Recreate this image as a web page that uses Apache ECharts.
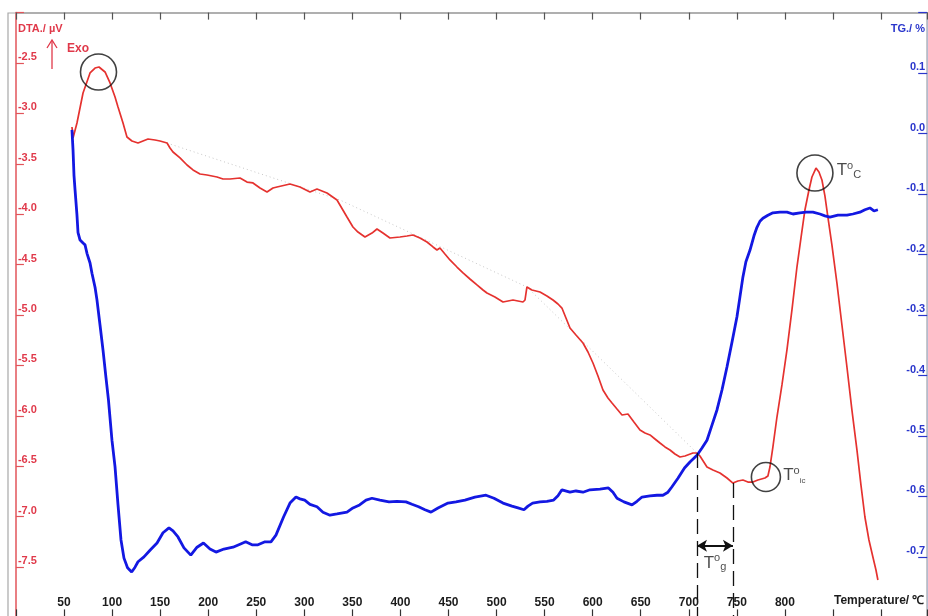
<!DOCTYPE html>
<html>
<head>
<meta charset="utf-8">
<script src="https://cdn.jsdelivr.net/npm/echarts@6/dist/echarts.min.js"></script>
<style>
  html, body { margin: 0; padding: 0; background: #fff; }
  #chart { width: 928px; height: 616px; }
</style>
</head>
<body>
<div id="chart"></div>
<script>
// DTA signal (µV) against temperature (°C)
const dtaTemp = [58.3,59.4,63.5,69.8,77.1,82.3,86.4,92.7,97.9,103.1,
  106.2,111.4,115.5,120.7,127.0,132.2,137.4,144.7,149.9,157.2,
  160.3,163.4,170.7,178.0,184.2,191.5,198.8,209.2,215.4,222.7,
  233.1,240.4,246.6,253.9,261.2,267.4,271.6,285.1,295.5,305.9,
  313.2,323.6,334.0,344.4,350.6,355.8,363.1,370.4,375.6,381.8,
  389.1,399.5,406.8,413.0,420.3,427.6,433.9,438.0,441.1,446.3,
  451.5,458.8,465.1,472.3,479.6,485.9,490.0,498.3,506.7,511.9,
  517.1,522.3,527.5,529.6,531.6,536.8,545.2,552.4,558.7,563.9,
  568.0,572.2,576.4,582.6,589.9,595.1,600.3,605.5,610.7,615.9,
  620.1,625.3,630.5,636.7,642.9,649.2,654.4,659.6,664.8,670.0,
  675.2,680.4,685.6,690.8,696.0,704.3,708.5,711.6,718.9,725.1,
  732.4,739.7,745.9,751.1,756.3,761.5,766.7,771.9,779.2,782.3,
  784.4,787.5,791.7,796.9,802.1,807.3,812.5,816.7,820.8,825.0,
  828.1,832.3,835.4,838.5,841.6,844.7,848.9,854.1,859.3,864.5,
  869.7,874.9,879.1,883.2,887.4,891.5,894.7,896.7];
const dtaValue = [-3.135,-3.244,-3.095,-2.798,-2.599,-2.550,-2.540,-2.589,-2.698,-2.837,
  -2.937,-3.095,-3.234,-3.274,-3.294,-3.274,-3.254,-3.264,-3.274,-3.294,
  -3.343,-3.383,-3.442,-3.512,-3.561,-3.601,-3.611,-3.631,-3.651,-3.651,
  -3.641,-3.681,-3.690,-3.740,-3.780,-3.740,-3.730,-3.700,-3.730,-3.780,
  -3.750,-3.790,-3.859,-4.028,-4.127,-4.177,-4.226,-4.187,-4.147,-4.187,
  -4.236,-4.226,-4.216,-4.206,-4.236,-4.276,-4.325,-4.355,-4.335,-4.395,
  -4.454,-4.524,-4.583,-4.643,-4.702,-4.752,-4.782,-4.821,-4.871,-4.861,
  -4.851,-4.861,-4.871,-4.851,-4.722,-4.752,-4.772,-4.811,-4.851,-4.891,
  -4.931,-5.030,-5.129,-5.198,-5.278,-5.367,-5.476,-5.605,-5.744,-5.823,
  -5.873,-5.933,-5.992,-5.982,-6.062,-6.141,-6.171,-6.190,-6.230,-6.270,
  -6.309,-6.339,-6.379,-6.409,-6.399,-6.369,-6.369,-6.399,-6.508,-6.538,
  -6.567,-6.617,-6.667,-6.647,-6.637,-6.657,-6.657,-6.637,-6.617,-6.597,
  -6.508,-6.309,-6.012,-5.694,-5.347,-4.950,-4.524,-4.236,-3.958,-3.760,
  -3.631,-3.542,-3.581,-3.661,-3.819,-4.028,-4.306,-4.683,-5.099,-5.516,
  -5.943,-6.339,-6.687,-7.004,-7.232,-7.401,-7.530,-7.629];

// TG mass change (%) against temperature (°C)
const tgTemp = [58.3,59.4,60.4,61.5,63.5,64.6,66.7,69.8,71.9,73.9,
  77.1,79.1,82.3,84.3,87.5,90.6,93.7,96.3,99.9,103.1,
  106.2,109.3,112.4,116.1,120.4,123.9,127.0,133.2,139.5,146.8,
  153.0,159.2,163.4,168.6,174.8,181.9,188.4,195.1,201.9,208.1,
  216.4,225.8,233.1,239.0,245.6,251.8,259.1,265.3,270.5,278.4,
  285.1,291.3,295.5,300.4,305.9,313.2,319.4,326.7,334.0,344.4,
  350.6,357.5,364.2,370.4,378.7,388.1,396.4,405.8,412.0,418.9,
  425.5,431.8,439.1,449.5,457.8,467.1,477.5,489.0,497.3,506.7,
  516.0,522.3,528.5,532.7,537.5,545.2,552.4,559.4,563.9,568.0,
  576.4,582.6,589.9,597.2,607.6,616.4,621.1,625.3,632.5,640.9,
  646.1,651.3,659.6,666.9,673.1,678.3,682.5,688.7,695.5,701.2,
  708.5,713.7,718.9,724.1,729.3,734.5,739.7,744.9,750.1,753.2,
  756.3,759.4,763.6,767.8,770.9,774.0,777.1,782.3,787.5,794.8,
  802.1,808.3,815.6,821.9,829.1,836.4,841.6,846.8,855.1,864.5,
  870.7,878.0,883.2,888.4,892.6,896.7];
const tgValue = [0.006,-0.027,-0.069,-0.093,-0.135,-0.164,-0.176,-0.181,-0.184,-0.198,
  -0.214,-0.231,-0.254,-0.275,-0.317,-0.358,-0.404,-0.441,-0.507,-0.551,
  -0.614,-0.672,-0.702,-0.718,-0.725,-0.717,-0.708,-0.700,-0.689,-0.677,
  -0.660,-0.652,-0.657,-0.667,-0.685,-0.697,-0.684,-0.677,-0.687,-0.692,
  -0.687,-0.684,-0.679,-0.675,-0.680,-0.680,-0.675,-0.675,-0.664,-0.634,
  -0.611,-0.601,-0.604,-0.606,-0.613,-0.617,-0.626,-0.631,-0.629,-0.626,
  -0.619,-0.614,-0.606,-0.603,-0.606,-0.609,-0.608,-0.609,-0.613,-0.617,
  -0.622,-0.626,-0.619,-0.611,-0.609,-0.606,-0.601,-0.598,-0.603,-0.611,
  -0.616,-0.619,-0.622,-0.616,-0.611,-0.609,-0.608,-0.606,-0.599,-0.589,
  -0.593,-0.591,-0.593,-0.589,-0.588,-0.586,-0.593,-0.603,-0.609,-0.614,
  -0.608,-0.601,-0.599,-0.598,-0.598,-0.593,-0.584,-0.570,-0.553,-0.543,
  -0.532,-0.520,-0.507,-0.482,-0.457,-0.424,-0.386,-0.345,-0.303,-0.270,
  -0.237,-0.212,-0.193,-0.169,-0.155,-0.145,-0.140,-0.135,-0.131,-0.130,
  -0.130,-0.133,-0.131,-0.130,-0.130,-0.133,-0.136,-0.138,-0.135,-0.135,
  -0.133,-0.130,-0.126,-0.123,-0.128,-0.126];

// Dotted DTA baseline
const baseTemp = [157.2, 337.1, 531.6, 708.5];
const baseValue = [-3.294, -3.859, -4.722, -6.369];

// Marked thermal events on the DTA curve: first exotherm, crystallisation peak Tc, onset Tic
const eventTemp = [85.9, 831.2, 780.2];
const eventDta = [-2.589, -3.591, -6.607];

// Glass transition interval Tg: bounding temperatures and DTA where the guides start
const tgRangeTemp = [708.5, 745.9];
const tgRangeDta = [-6.369, -6.667];
const tgArrowDta = -7.29;
const tgLabelDta = -7.46;

// Tick labels
const tempLabels = [50,100,150,200,250,300,350,400,450,500,550,600,650,700,750,800];
const dtaLabels = ['-2.5','-3.0','-3.5','-4.0','-4.5','-5.0','-5.5','-6.0','-6.5','-7.0','-7.5'];
const tgLabels = ['0.1','0.0','-0.1','-0.2','-0.3','-0.4','-0.5','-0.6','-0.7'];

const FONT = '"Liberation Sans", Arial, sans-serif';
const RED = '#e5322f';
const BLUE = '#1318e2';
const LABEL_RED = '#e0394a';
const LABEL_BLUE = '#2a36cc';
const INK = '#1c1c1c';

const pairs = (xs, ys) => xs.map((x, i) => [x, ys[i]]);
const fmt1 = v => (Math.abs(v) < 1e-9 ? 0 : v).toFixed(1);

const supRich = {
  t: { fontSize: 17, lineHeight: 20, color: INK, fontFamily: FONT },
  o: { fontSize: 11, lineHeight: 11, verticalAlign: 'top', color: INK, fontFamily: FONT },
  s: { fontSize: 11, lineHeight: 11, verticalAlign: 'bottom', color: INK, fontFamily: FONT },
  ss: { fontSize: 8, lineHeight: 9, verticalAlign: 'bottom', color: INK, fontFamily: FONT }
};

const chart = echarts.init(document.getElementById('chart'));

chart.setOption({
  animation: false,
  backgroundColor: '#fff',
  grid: { left: 15.93, right: 0.8, top: 12.6, bottom: -1.4, containLabel: false, outerBoundsMode: 'none' },
  xAxis: [
    {
      type: 'value', position: 'bottom', min: 0, max: 948, interval: 50,
      axisLine: { show: false, onZero: false },
      axisTick: { inside: true, length: 8, lineStyle: { color: '#333', width: 1.2 } },
      axisLabel: {
        inside: true, margin: 9, color: INK, fontWeight: 'bold', fontSize: 12, fontFamily: FONT,
        formatter: v => (tempLabels.indexOf(Math.round(v)) >= 0 ? String(Math.round(v)) : '')
      },
      splitLine: { show: false }
    },
    {
      type: 'value', position: 'top', min: 0, max: 948, interval: 50,
      axisLine: { show: true, onZero: false, lineStyle: { color: '#a4a4a4', width: 1.5 } },
      axisTick: { inside: true, length: 7, lineStyle: { color: '#555', width: 1.2 } },
      axisLabel: { show: false },
      splitLine: { show: false }
    }
  ],
  yAxis: [
    {
      type: 'value', position: 'left', min: -8, max: -2, interval: 0.5,
      axisLine: { show: true, onZero: false, lineStyle: { color: '#e2545a', width: 1.5 } },
      axisTick: { inside: true, length: 8, lineStyle: { color: '#e2545a', width: 1.2 } },
      axisLabel: {
        inside: true, margin: 2, verticalAlign: 'bottom', lineHeight: 12,
        color: LABEL_RED, fontWeight: 'bold', fontSize: 11, fontFamily: FONT,
        formatter: v => (dtaLabels.indexOf(fmt1(v)) >= 0 ? fmt1(v) : '')
      },
      splitLine: { show: false }
    },
    {
      type: 'value', position: 'right', min: -0.8, max: 0.2, interval: 0.1,
      axisLine: { show: true, onZero: false, lineStyle: { color: '#b4bad0', width: 1.2 } },
      axisTick: { inside: true, length: 9, lineStyle: { color: LABEL_BLUE, width: 1.2 } },
      axisLabel: {
        inside: true, margin: 2, verticalAlign: 'bottom', lineHeight: 12,
        color: LABEL_BLUE, fontWeight: 'bold', fontSize: 11, fontFamily: FONT,
        formatter: v => (tgLabels.indexOf(fmt1(v)) >= 0 ? fmt1(v) : '')
      },
      splitLine: { show: false }
    }
  ],
  series: [
    {
      name: 'Baseline', type: 'line', xAxisIndex: 0, yAxisIndex: 0,
      data: pairs(baseTemp, baseValue), showSymbol: false, silent: true, z: 2,
      lineStyle: { color: '#b9b9b9', width: 0.8, type: [1, 3] },
      markLine: {
        silent: true, symbol: ['arrow', 'arrow'], symbolSize: [9, 10], precision: 3,
        label: { show: false },
        lineStyle: { color: '#111', width: 2, type: 'solid' },
        data: [[{ coord: [tgRangeTemp[0], tgArrowDta] }, { coord: [tgRangeTemp[1], tgArrowDta] }]]
      }
    },
    {
      name: 'DTA', type: 'line', xAxisIndex: 0, yAxisIndex: 0,
      data: pairs(dtaTemp, dtaValue), showSymbol: false, z: 3,
      lineStyle: { color: RED, width: 1.7 },
      markLine: {
        silent: true, symbol: ['none', 'none'], precision: 3,
        label: { show: false },
        lineStyle: { color: '#111', width: 1.3, type: [15, 7] },
        data: tgRangeTemp.map((t, i) => [{ coord: [t, tgRangeDta[i]] }, { coord: [t, -8] }])
      }
    },
    {
      name: 'TG', type: 'line', xAxisIndex: 0, yAxisIndex: 1,
      data: pairs(tgTemp, tgValue), showSymbol: false, z: 4,
      lineStyle: { color: BLUE, width: 2.8 }
    },
    {
      name: 'Events', type: 'scatter', xAxisIndex: 0, yAxisIndex: 0, z: 5, silent: true,
      itemStyle: { color: 'rgba(0,0,0,0)', borderColor: '#111', borderWidth: 1.6 },
      data: [
        { value: [eventTemp[0], eventDta[0]], symbolSize: 36 },
        { value: [eventTemp[1], eventDta[1]], symbolSize: 36,
          label: { show: true, position: 'right', distance: 3, offset: [0, -3],
                   formatter: '{t|T}{o|o}{s|C}', rich: supRich } },
        { value: [eventTemp[2], eventDta[2]], symbolSize: 29,
          label: { show: true, position: 'right', distance: 2, offset: [0, -2],
                   formatter: '{t|T}{o|o}{ss|ic}', rich: supRich } }
      ]
    },
    {
      name: 'Tg', type: 'scatter', xAxisIndex: 0, yAxisIndex: 0, z: 5, silent: true,
      symbolSize: 1, itemStyle: { color: 'rgba(0,0,0,0)' },
      label: { show: true, position: 'inside', formatter: '{t|T}{o|o}{s|g}', rich: supRich },
      data: [[(tgRangeTemp[0] + tgRangeTemp[1]) / 2, tgLabelDta]]
    }
  ],
  graphic: [
    { type: 'rect', z: -1, silent: true,
      shape: { x: 8, y: 13, width: 919, height: 612 },
      style: { fill: 'none', stroke: '#a8a8a8', lineWidth: 1.2 } },
    { type: 'text', left: 18, top: 23, silent: true,
      style: { text: 'DTA./ µV', fill: LABEL_RED, font: 'bold 11px ' + FONT } },
    { type: 'text', right: 3, top: 23, silent: true,
      style: { text: 'TG./ %', fill: LABEL_BLUE, font: 'bold 11px ' + FONT } },
    { type: 'polyline', silent: true,
      shape: { points: [[52, 69], [52, 41]] },
      style: { stroke: '#e0394a', lineWidth: 1.3, fill: 'none' } },
    { type: 'polyline', silent: true,
      shape: { points: [[47, 48], [52, 40], [57, 48]] },
      style: { stroke: '#e0394a', lineWidth: 1.3, fill: 'none' } },
    { type: 'text', left: 67, top: 43, silent: true,
      style: { text: 'Exo', fill: LABEL_RED, font: 'bold 12px ' + FONT } },
    { type: 'text', left: 834, top: 595, silent: true,
      style: { text: 'Temperature/ ℃', fill: INK, font: 'bold 12px ' + FONT } }
  ]
});
</script>
</body>
</html>
